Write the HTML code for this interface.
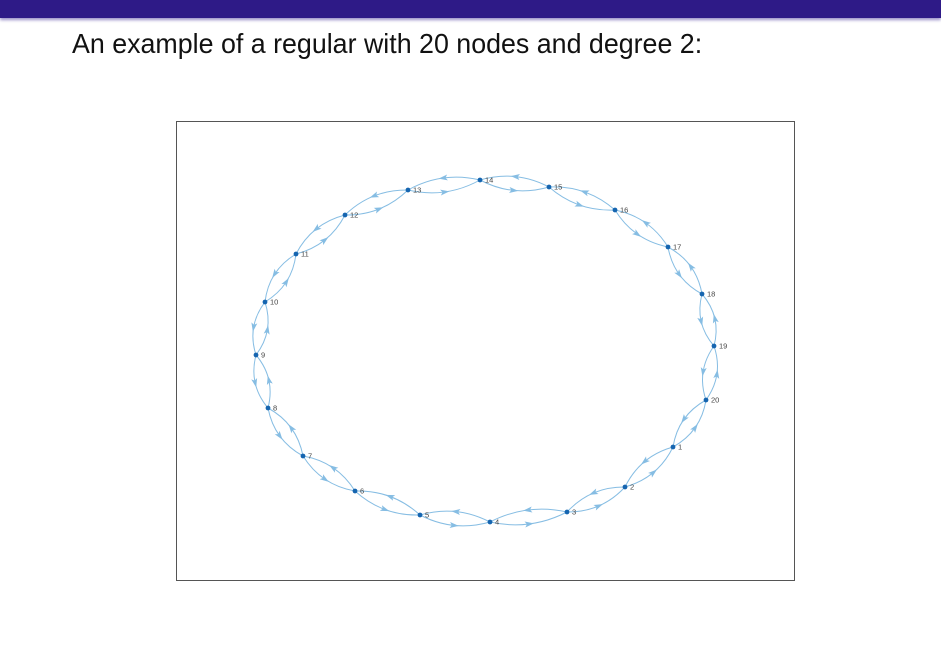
<!DOCTYPE html>
<html><head><meta charset="utf-8"><style>
body{margin:0;width:941px;height:660px;background:#fff;overflow:hidden;font-family:"Liberation Sans",sans-serif}
#bar{position:absolute;left:0;top:0;width:941px;height:18px;background:#2e1a87;box-shadow:0 2px 3px #9a90c8}
#title{position:absolute;left:72px;top:28px;font-size:26.8px;color:#111;white-space:nowrap;transform:scaleY(1.05);transform-origin:left top}
svg{position:absolute;left:0;top:0}
</style></head><body>
<div id="bar"></div>
<div id="title">An example of a regular with 20 nodes and degree 2:</div>
<svg id="chart" width="941" height="660">
<rect x="176.5" y="121.5" width="618" height="459" fill="none" stroke="#555" stroke-width="1"/>
<g id="edges"></g><g id="nodes"></g>
</svg>
<script>
const nodeLabels=["1","2","3","4","5","6","7","8","9","10","11","12","13","14","15","16","17","18","19","20"];
const nodeX=[673,625,567,490,420,355,303,268,256,265,296,345,408,480,549,615,668,702,714,706];
const nodeY=[447,487,512,522,515,491,456,408,355,302,254,215,190,180,187,210,247,294,346,400];
const NS="http://www.w3.org/2000/svg";
const eg=document.getElementById('edges'),ng=document.getElementById('nodes');
const col="#86bde3";
function edge(a,b){
  const x1=nodeX[a],y1=nodeY[a],x2=nodeX[b],y2=nodeY[b];
  const dx=x2-x1,dy=y2-y1,L=Math.hypot(dx,dy);
  const px=-dy/L,py=dx/L,off=14;
  const cx=(x1+x2)/2+px*off,cy=(y1+y2)/2+py*off;
  const p=document.createElementNS(NS,'path');
  p.setAttribute('d',`M${x1},${y1} Q${cx},${cy} ${x2},${y2}`);
  p.setAttribute('fill','none');p.setAttribute('stroke',col);p.setAttribute('stroke-width','1');
  
  
  eg.appendChild(p);
  const mx=(x1+2*cx+x2)/4,my=(y1+2*cy+y2)/4;
  const ang=Math.atan2(dy,dx)*180/Math.PI;
  const ar=document.createElementNS(NS,'path');
  ar.setAttribute('d','M4.5,0 L-4.5,-3 L-2.5,0 L-4.5,3 Z');
  ar.setAttribute('fill',col);
  ar.setAttribute('transform',`translate(${mx},${my}) rotate(${ang})`);
  
  
  eg.appendChild(ar);
}
const n=nodeX.length;
for(let i=0;i<n;i++){const j=(i+1)%n;edge(i,j);edge(j,i);}
for(let i=0;i<n;i++){
  const c=document.createElementNS(NS,'circle');
  c.setAttribute('cx',nodeX[i]);c.setAttribute('cy',nodeY[i]);c.setAttribute('r','2.4');c.setAttribute('fill','#1565b0');
  
  
  ng.appendChild(c);
  const t=document.createElementNS(NS,'text');
  t.setAttribute('x',nodeX[i]+5);t.setAttribute('y',nodeY[i]+2.5);t.setAttribute('font-size','7.5');t.setAttribute('fill','#444');
  t.setAttribute('font-family','Liberation Sans, sans-serif');
  t.textContent=nodeLabels[i];
  
  
  ng.appendChild(t);
}
</script>
</body></html>
